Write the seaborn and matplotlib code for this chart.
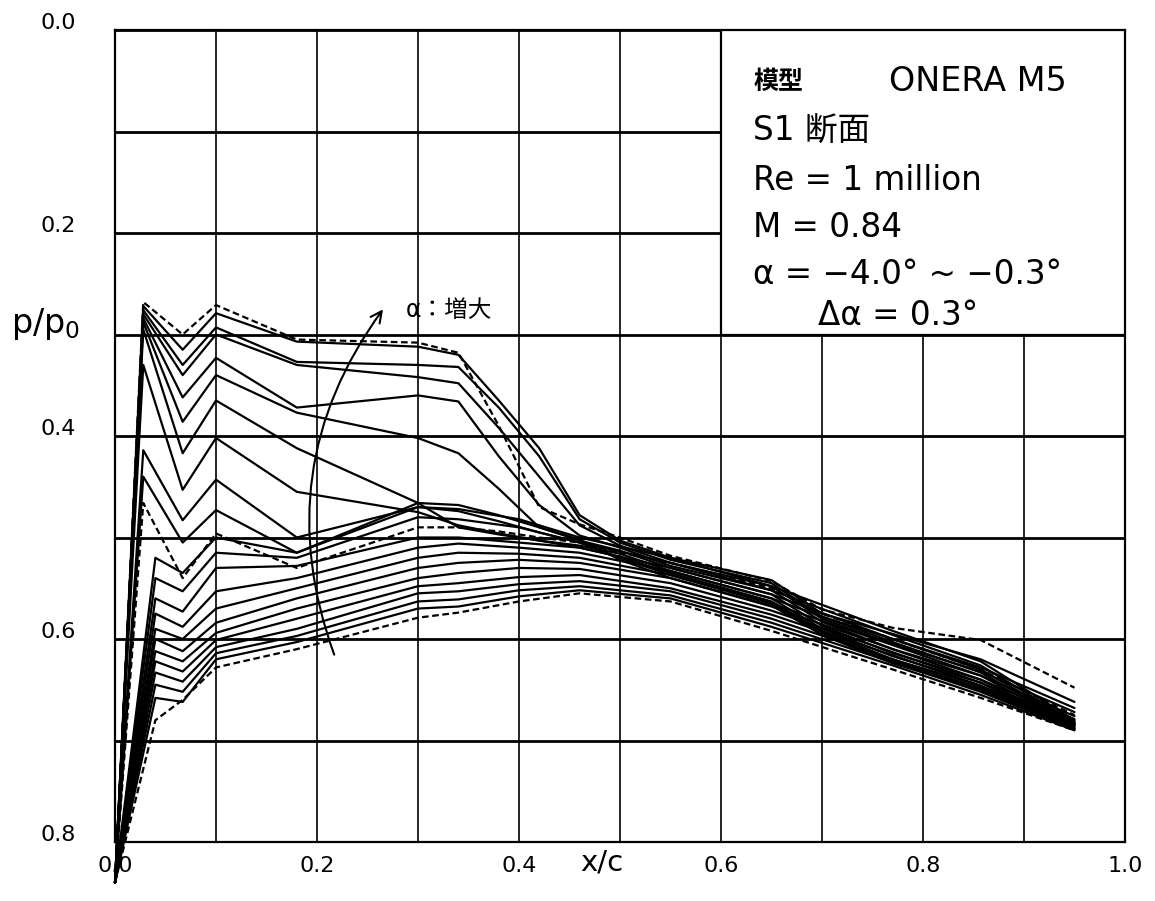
import numpy as np
import pandas as pd
import matplotlib
matplotlib.use("Agg")
import matplotlib.pyplot as plt
from matplotlib.patches import Rectangle
import matplotlib.transforms as mtransforms
import seaborn as sns

# ---- data ----
# family A : curves with supersonic plateau / shock (stations incl. x=0.028 suction peak)
X_A = [0.0, 0.028, 0.067, 0.10, 0.18, 0.30, 0.34, 0.38, 0.42, 0.46, 0.50, 0.55, 0.65, 0.70, 0.77, 0.857, 0.95]
A_CURVES = {
    "A0": [.84, .268, .300, .271, .305, .308, .318, .390, .470, .487, .500, .518, .543, .571, .589, .601, .648],
    "A1": [.84, .272, .315, .279, .307, .312, .320, .365, .412, .478, .503, .520, .542, .575, .595, .620, .662],
    "A2": [.84, .276, .330, .293, .327, .330, .332, .372, .420, .482, .505, .522, .545, .578, .600, .628, .668],
    "A3": [.84, .280, .340, .300, .330, .342, .348, .392, .440, .488, .508, .525, .548, .580, .605, .632, .672],
    "A4": [.84, .284, .362, .323, .372, .360, .366, .420, .468, .498, .510, .528, .552, .583, .610, .636, .676],
    "A5": [.84, .288, .386, .340, .377, .402, .417, .452, .490, .503, .513, .530, .556, .587, .614, .640, .679],
    "A6": [.84, .295, .417, .365, .412, .466, .490, .497, .503, .508, .516, .533, .560, .590, .617, .643, .681],
    "A7": [.84, .330, .453, .402, .455, .475, .488, .496, .503, .510, .519, .535, .563, .592, .620, .646, .683],
    "A8": [.84, .414, .483, .443, .500, .470, .474, .484, .495, .505, .520, .537, .565, .594, .622, .648, .684],
    "A9": [.84, .440, .505, .473, .515, .466, .468, .478, .490, .502, .522, .540, .567, .596, .624, .650, .685],
    "A10": [.84, .466, .540, .496, .530, .490, .490, .494, .500, .505, .515, .525, .550, .575, .600, .630, .675],
}
A_DASHED = ["A0", "A10"]

# family B : subcritical curves
X_B = [0.0, 0.04, 0.067, 0.10, 0.18, 0.30, 0.34, 0.40, 0.46, 0.55, 0.65, 0.77, 0.857, 0.95]
B_CURVES = {
    "B0": [.84, .520, .535, .500, .515, .470, .472, .482, .500, .520, .548, .592, .622, .680],
    "B1": [.84, .540, .553, .515, .520, .480, .482, .490, .505, .525, .552, .596, .626, .682],
    "B2": [.84, .560, .573, .530, .528, .500, .500, .505, .510, .530, .556, .600, .630, .683],
    "B3": [.84, .575, .588, .553, .540, .510, .506, .510, .515, .533, .560, .603, .633, .684],
    "B4": [.84, .590, .600, .570, .550, .520, .515, .516, .520, .537, .565, .606, .636, .685],
    "B5": [.84, .600, .612, .584, .560, .530, .525, .522, .525, .540, .568, .610, .640, .686],
    "B6": [.84, .612, .622, .594, .570, .540, .535, .530, .531, .545, .572, .613, .643, .687],
    "B7": [.84, .622, .632, .601, .580, .548, .545, .539, .537, .550, .576, .616, .646, .688],
    "B8": [.84, .633, .642, .608, .590, .555, .553, .546, .543, .553, .580, .620, .650, .688],
    "B9": [.84, .645, .652, .614, .597, .563, .561, .552, .548, .557, .584, .623, .652, .689],
    "B10": [.84, .658, .662, .620, .603, .570, .568, .558, .552, .560, .588, .626, .655, .690],
    "B11": [.84, .680, .660, .628, .610, .579, .574, .563, .555, .563, .592, .630, .658, .690],
}
B_DASHED = ["B11"]

X_TICKS = [0.0, 0.2, 0.4, 0.6, 0.8, 1.0]
X_TICKLABELS = ["0.0", "0.2", "0.4", "0.6", "0.8", "1.0"]
Y_TICKS = [0.0, 0.2, 0.4, 0.6, 0.8]
Y_TICKLABELS = ["0.0", "0.2", "0.4", "0.6", "0.8"]

INFO_LINES = ["S1 断面", "Re = 1 million", "M = 0.84", "α = −4.0° ~ −0.3°", "Δα = 0.3°"]

# ---- build long-form table ----
rows = []
for name, vals in A_CURVES.items():
    kind = "dashed" if name in A_DASHED else "solid"
    for x, p in zip(X_A, vals):
        rows.append((name, kind, x, p))
for name, vals in B_CURVES.items():
    kind = "dashed" if name in B_DASHED else "solid"
    for x, p in zip(X_B, vals):
        rows.append((name, kind, x, p))
df = pd.DataFrame(rows, columns=["curve", "kind", "x", "p"])

sns.set_style("white")
plt.rcParams["font.family"] = ["DejaVu Sans", "Noto Sans CJK JP"]
plt.rcParams["text.color"] = "black"
plt.rcParams["xtick.color"] = "black"
plt.rcParams["ytick.color"] = "black"

fig = plt.figure(figsize=(11.55, 9.01), dpi=100)
ax = fig.add_axes([115 / 1155, 1 - 842 / 901, 1010 / 1155, 812 / 901])

sns.lineplot(data=df, x="x", y="p", units="curve", estimator=None, sort=False,
             style="kind", dashes={"solid": "", "dashed": (3, 1.6)},
             color="black", linewidth=1.6, legend=False, ax=ax)
for ln in ax.lines:
    ln.set_clip_on(False)

ax.set_xlim(0, 1.0)
ax.set_ylim(0.8, 0.0)
ax.set_xticks(X_TICKS)
ax.set_xticklabels(X_TICKLABELS)
ax.set_xticks(np.arange(0.1, 1.0, 0.2), minor=True)
ax.set_yticks(Y_TICKS)
ax.set_yticklabels(Y_TICKLABELS)
ax.set_yticks(np.arange(0.1, 0.8, 0.2), minor=True)
ax.tick_params(axis="both", which="both", length=0, labelsize=16, labelcolor="black")
ax.tick_params(axis="x", pad=10)
ax.tick_params(axis="y", pad=28)
up = mtransforms.ScaledTranslation(0, 9 / 100, fig.dpi_scale_trans)
for lab in ax.get_yticklabels():
    lab.set_transform(lab.get_transform() + up)
ax.xaxis.grid(True, which="both", color="black", linewidth=1.2)
ax.yaxis.grid(True, which="both", color="black", linewidth=2.0)
ax.set_xlabel("")
ax.set_ylabel("")
for sp in ax.spines.values():
    sp.set_color("black")
    sp.set_linewidth(1.6)

ax.text(0.482, -0.025, "x/c", transform=ax.transAxes, ha="center", va="center", fontsize=21)
ax.text(-0.069, 0.29, "p/p$_0$", transform=ax.get_yaxis_transform(), ha="center", va="center", fontsize=24)

# info box
ax.add_patch(Rectangle((0.6, 0.0), 0.4, 0.30, facecolor="white", edgecolor="black",
                       linewidth=1.6, zorder=3))
ax.text(0.632, 0.051, "模型", fontsize=18, fontweight="bold", va="center", ha="left", zorder=4,
        family=["Noto Sans CJK JP"])
ax.text(0.766, 0.051, "ONERA M5", fontsize=24, va="center", ha="left", zorder=4)
ys = [0.100, 0.148, 0.195, 0.241, 0.281]
xs = [0.632, 0.632, 0.632, 0.632, 0.696]
for t, x, y in zip(INFO_LINES, xs, ys):
    ax.text(x, y, t, fontsize=23.5, va="center", ha="left", zorder=4)

# arrow: alpha increasing
ax.annotate("", xy=(0.267, 0.273), xytext=(0.218, 0.618),
            arrowprops=dict(arrowstyle="->", color="black", lw=1.5,
                            connectionstyle="arc3,rad=-0.27", mutation_scale=20))
ax.text(0.288, 0.276, "α：増大", fontsize=17, va="center", ha="left")

fig.savefig("out.png", dpi=100)
